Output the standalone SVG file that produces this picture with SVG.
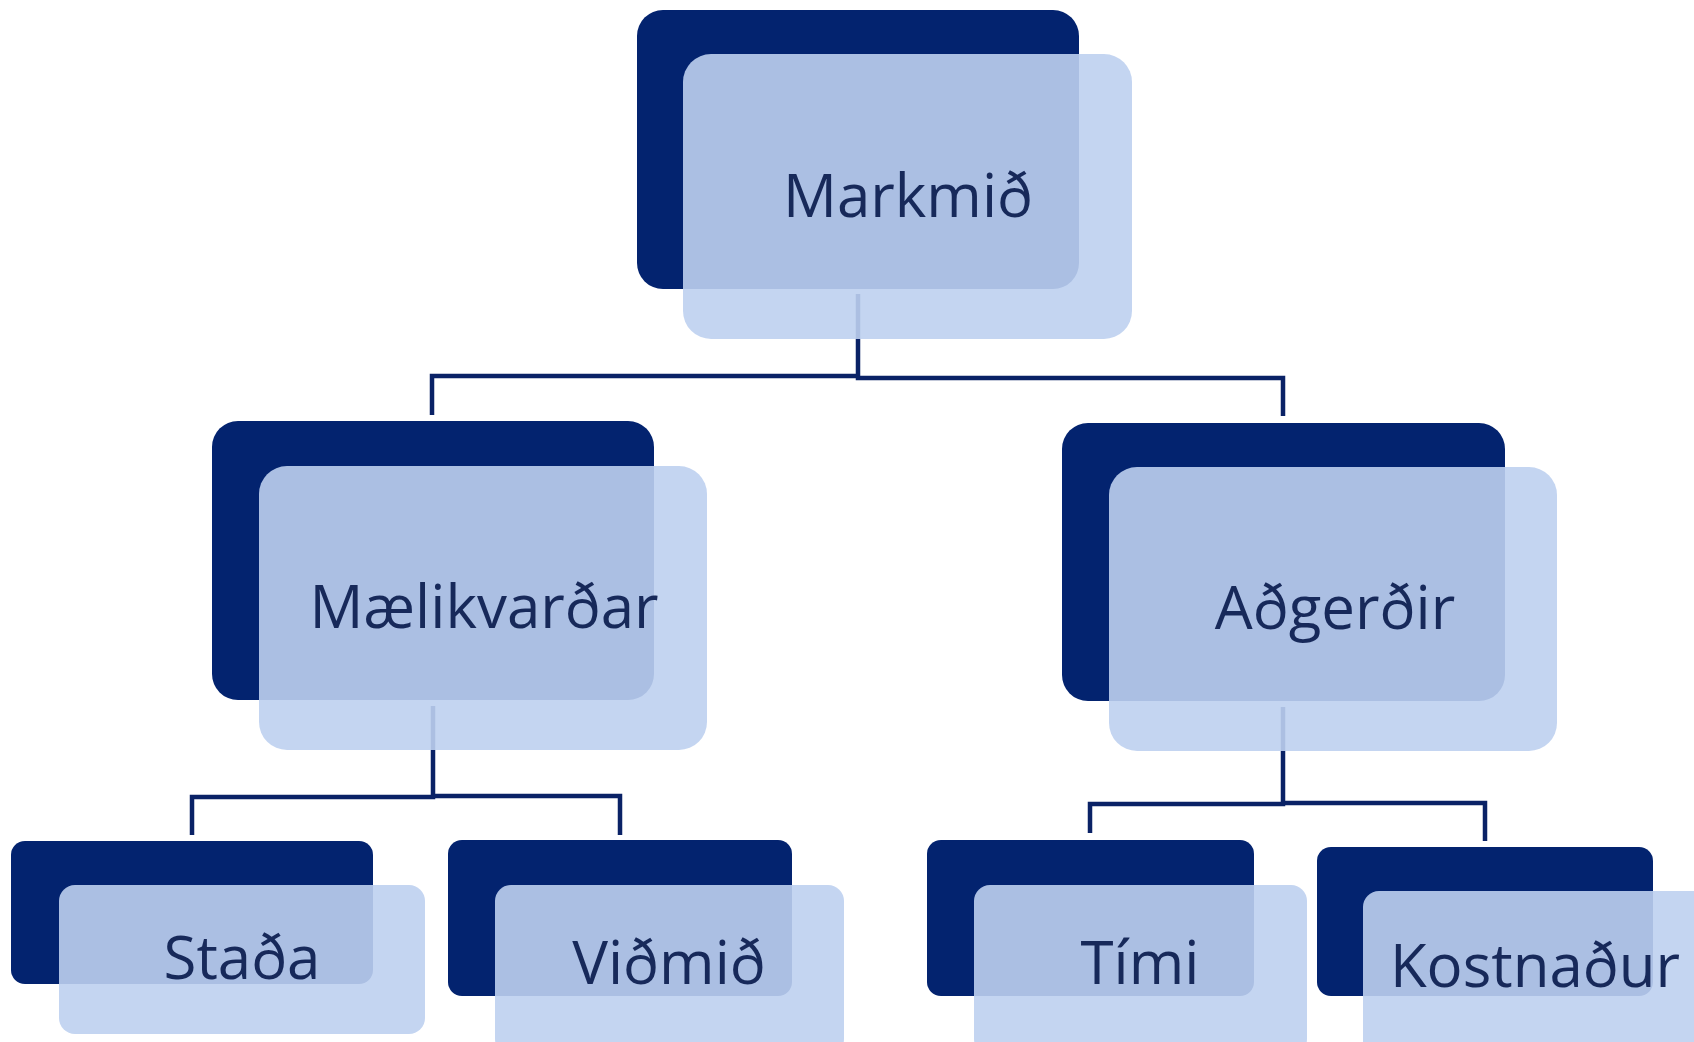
<svg xmlns="http://www.w3.org/2000/svg" width="1694" height="1042" viewBox="0 0 1694 1042">
<style>
.dark{fill:#03236F}
.light{fill:rgb(190,208,239);fill-opacity:0.9}
.lbl{font-family:"Open Sans","DejaVu Sans",sans-serif;font-size:60px;fill:#17295A;text-anchor:middle}
.conn{fill:none;stroke:#0A2266;stroke-width:4.5}
</style>
<rect width="1694" height="1042" fill="#FFFFFF"/>
<g id="connectors">
<polyline class="conn" points="858,294 858,376 432,376 432,415"/>
<polyline class="conn" points="858,376 858,378 1283,378 1283,416"/>
<polyline class="conn" points="433,706 433,797 192,797 192,835"/>
<polyline class="conn" points="433,796 620,796 620,835"/>
<polyline class="conn" points="1283,707 1283,804 1090,804 1090,833"/>
<polyline class="conn" points="1283,803 1485,803 1485,841"/>
</g>
<g id="node-markmid">
<rect class="dark" x="637" y="10" width="442" height="279" rx="26"/>
<rect class="light" x="683" y="54" width="449" height="285" rx="28"/>
<text class="lbl" x="908" y="217">Markmið</text>
</g>
<g id="node-maelikvardar">
<rect class="dark" x="212" y="421" width="442" height="279" rx="26"/>
<rect class="light" x="259" y="466" width="448" height="284" rx="28"/>
<text class="lbl" x="484" y="628">Mælikvarðar</text>
</g>
<g id="node-adgerdir">
<rect class="dark" x="1062" y="423" width="443" height="278" rx="26"/>
<rect class="light" x="1109" y="467" width="448" height="284" rx="28"/>
<text class="lbl" x="1335" y="629">Aðgerðir</text>
</g>
<g id="node-stada">
<rect class="dark" x="11" y="841" width="362" height="143" rx="14"/>
<rect class="light" x="59" y="885" width="366" height="149" rx="16"/>
<text class="lbl" x="242" y="979">Staða</text>
</g>
<g id="node-vidmid">
<rect class="dark" x="448" y="840" width="344" height="156" rx="14"/>
<rect class="light" x="495" y="885" width="349" height="170" rx="16"/>
<text class="lbl" x="669" y="984">Viðmið</text>
</g>
<g id="node-timi">
<rect class="dark" x="927" y="840" width="327" height="156" rx="14"/>
<rect class="light" x="974" y="885" width="333" height="170" rx="16"/>
<text class="lbl" x="1140" y="984">Tími</text>
</g>
<g id="node-kostnadur">
<rect class="dark" x="1317" y="847" width="336" height="149" rx="14"/>
<rect class="light" x="1363" y="891" width="345" height="170" rx="16"/>
<text class="lbl" x="1535" y="987">Kostnaður</text>
</g>
</svg>
